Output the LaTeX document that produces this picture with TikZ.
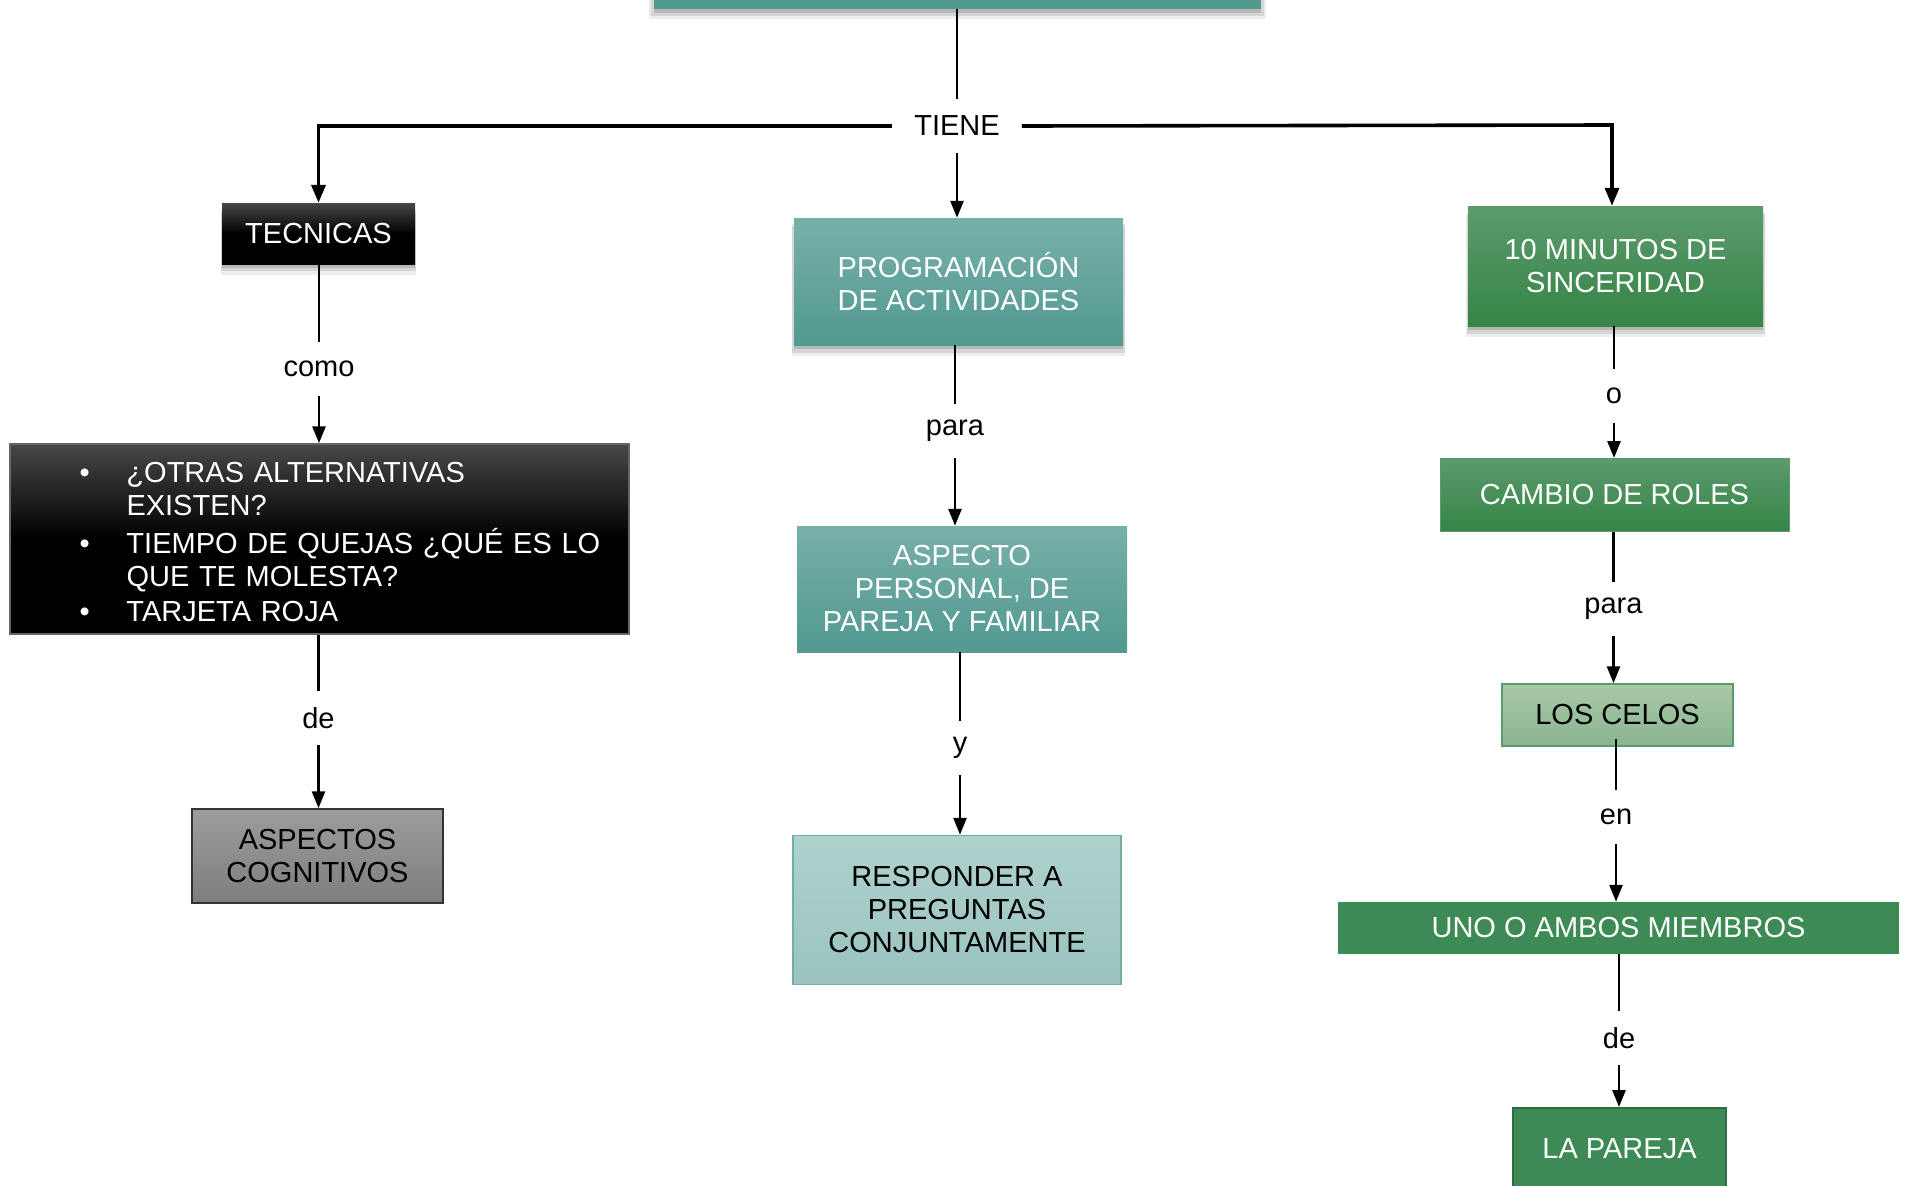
\documentclass[tikz,border=0pt]{standalone}
\usepackage{fontspec}
\setmainfont{Liberation Sans}
\usetikzlibrary{arrows.meta,shadows}
\definecolor{tealTop}{HTML}{77B0A9}
\definecolor{tealBot}{HTML}{52998F}
\definecolor{ltealTop}{HTML}{AFD1CD}
\definecolor{ltealBot}{HTML}{9AC4BE}
\definecolor{ltealLine}{HTML}{72AEA6}
\definecolor{grnTop}{HTML}{5C9B6D}
\definecolor{grnBot}{HTML}{358446}
\definecolor{grnFlat}{HTML}{3D8A55}
\definecolor{grnDark}{HTML}{2E6B40}
\definecolor{lgrnTop}{HTML}{A9C9A9}
\definecolor{lgrnBot}{HTML}{8AB48F}
\definecolor{greyTop}{HTML}{9C9C9C}
\definecolor{greyBot}{HTML}{7E7E7E}
\begin{document}
\begin{tikzpicture}[x=1pt,y=-1pt,
  txt/.style={font=\fontsize{29}{33}\selectfont},
  box/.style={txt, inner sep=0pt, align=center},
  shad/.style={
    drop shadow={shadow xshift=0pt, shadow yshift=-10pt, shadow scale=1.015, opacity=0.07, fill=black},
    drop shadow={shadow xshift=0pt, shadow yshift=-7pt, shadow scale=1.01, opacity=0.10, fill=black},
    drop shadow={shadow xshift=0pt, shadow yshift=-4pt, opacity=0.14, fill=black}},
  tealbox/.style={box, top color=tealTop, bottom color=tealBot, text=white},
  ltealbox/.style={box, top color=ltealTop, bottom color=ltealBot, draw=ltealLine, line width=1.5pt, text=black},
  blackbox/.style={box, top color=black!72, bottom color=black, middle color=black, text=white},
  greybox/.style={box, top color=greyTop, bottom color=greyBot, draw=black!80, line width=1.5pt, text=black},
  grnbox/.style={box, top color=grnTop, bottom color=grnBot, text=white},
  lgrnbox/.style={box, top color=lgrnTop, bottom color=lgrnBot, draw=grnFlat!85, line width=1.5pt, text=black},
  flatgrn/.style={box, fill=grnFlat, text=white},
  lbl/.style={txt, inner xsep=22pt, inner ysep=0pt, minimum height=54pt, text=black},
  conn/.style={line width=2.7pt, draw=black},
  arr/.style={conn, -{Triangle[width=13pt,length=17pt]}},
  thick arr/.style={line width=3.6pt, draw=black, -{Triangle[width=14pt,length=18pt]}}
]
\useasboundingbox (0,0) rectangle (1909,1186);

% top (cut off) box
\node[box, fill=tealBot, shad, minimum width=607pt, minimum height=89pt] (top) at (957.5,-36) {};

% label TIENE
\node[lbl] (tiene) at (957,126) {TIENE};
\coordinate (rbend) at (1612,125);

% left column
\node[blackbox, shad, minimum width=193pt, minimum height=61pt] (tec) at (318.5,233.5) {TECNICAS};
\node[lbl] (como) at (319,369) {como};
\node[blackbox, draw=black!60, line width=1.5pt, text width=560pt, inner xsep=29.5pt, minimum height=190pt, align=left] (lista) at (319.5,539)
{\begin{tabular}{@{\hspace*{40pt}}p{47pt}@{}l@{}}
\textbullet & \rule{0pt}{36pt}¿OTRAS ALTERNATIVAS\\[0pt]
 & EXISTEN?\\[3pt]
\textbullet & TIEMPO DE QUEJAS ¿QUÉ ES LO\\[0pt]
 & QUE TE MOLESTA?\\[2pt]
\textbullet & TARJETA ROJA
\end{tabular}};
\node[lbl] (deA) at (318.5,718) {de};
\node[greybox, minimum width=251pt, minimum height=94pt] (cog) at (317.5,856) {ASPECTOS\\COGNITIVOS};

% middle column
\node[tealbox, shad, minimum width=329pt, minimum height=127pt] (prog) at (958.5,281.5) {PROGRAMACIÓN\\DE ACTIVIDADES};
\node[lbl] (paraA) at (955,431) {para};
\node[tealbox, minimum width=330pt, minimum height=126pt] (pers) at (962,589) {ASPECTO\\PERSONAL, DE\\PAREJA Y FAMILIAR};
\node[lbl] (y) at (960,748) {y};
\node[ltealbox, minimum width=328pt, minimum height=149pt] (resp) at (957,910) {RESPONDER A\\PREGUNTAS\\CONJUNTAMENTE};

% right column
\node[grnbox, shad, minimum width=295pt, minimum height=120pt] (min) at (1615.5,266) {10 MINUTOS DE\\SINCERIDAD};
\node[lbl] (o) at (1614,396) {o};
\node[grnbox, draw=grnTop, line width=1pt, minimum width=349pt, minimum height=73pt] (roles) at (1614.5,495) {CAMBIO DE ROLES};
\node[lbl] (paraB) at (1613.5,609) {para};
\node[lgrnbox, minimum width=231pt, minimum height=62pt] (celos) at (1617.5,715) {LOS CELOS};
\node[lbl] (en) at (1616,817) {en};
\node[flatgrn, minimum width=561pt, minimum height=52pt] (uno) at (1618.5,928) {UNO O AMBOS MIEMBROS};
\node[lbl] (deB) at (1619,1038) {de};
\node[flatgrn, draw=grnDark, line width=2pt, minimum width=213pt, minimum height=82pt] (pareja) at (1619.5,1149) {LA PAREJA};

% connectors
\draw[conn] (tiene.north |- top.south) -- (tiene.north);
\draw[thick arr] (tiene.west) -| (tec.north);
\draw[thick arr] (tiene.east) -- (rbend) -- (rbend |- min.north);
\draw[arr] (tiene.south) -- (tiene.south |- prog.north);

\draw[conn] (como.north |- tec.south) -- (como.north);
\draw[arr] (como.south) -- (como.south |- lista.north);
\draw[conn] (deA.north |- lista.south) -- (deA.north);
\draw[arr] (deA.south) -- (deA.south |- cog.north);

\draw[conn] (paraA.north |- prog.south) -- (paraA.north);
\draw[arr] (paraA.south) -- (paraA.south |- pers.north);
\draw[conn] (y.north |- pers.south) -- (y.north);
\draw[arr] (y.south) -- (y.south |- resp.north);

\draw[conn] (o.north |- min.south) -- (o.north);
\draw[arr] (o.south) -- (o.south |- roles.north);
\draw[conn] (paraB.north |- roles.south) -- (paraB.north);
\draw[arr] (paraB.south) -- (paraB.south |- celos.north);
\draw[conn, shorten <=-8pt] (en.north |- celos.south) -- (en.north);
\draw[arr] (en.south) -- (en.south |- uno.north);
\draw[conn] (deB.north |- uno.south) -- (deB.north);
\draw[arr] (deB.south) -- (deB.south |- pareja.north);
\end{tikzpicture}
\end{document}
